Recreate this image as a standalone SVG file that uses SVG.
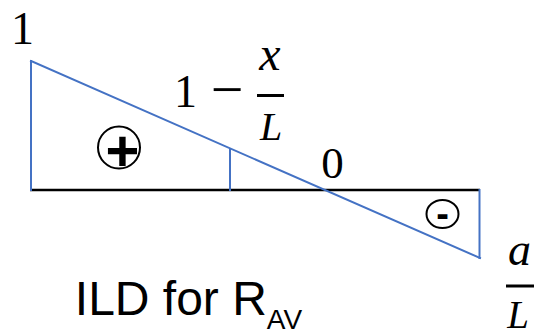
<svg xmlns="http://www.w3.org/2000/svg" width="534" height="332" viewBox="0 0 534 332">
  <style>
    .blue { stroke: #4472C4; stroke-width: 2; fill: none; stroke-linecap: square; }
    .axis { stroke: #000; stroke-width: 2.5; fill: none; }
    .math { font-family: "Liberation Serif", "Times New Roman", serif; fill: #000; text-anchor: middle; }
    .mi { font-style: italic; }
    .bar { stroke: #000; stroke-width: 3; }
    .sign { fill: none; stroke: #000; stroke-width: 2; }
    .signtxt { font-family: "Liberation Sans", Arial, sans-serif; font-weight: bold; fill: #000; text-anchor: middle; }
    .label { font-family: "Liberation Sans", Arial, sans-serif; fill: #000; }
  </style>
  <rect width="534" height="332" fill="#fff"/>
  <g id="connectors">
    <line class="axis" x1="30" y1="190" x2="480" y2="190"/>
    <line class="blue" x1="31" y1="61" x2="31" y2="190"/>
    <line class="blue" x1="31" y1="61" x2="480" y2="258"/>
    <line class="blue" x1="230" y1="149" x2="230" y2="190"/>
    <line class="blue" x1="479.5" y1="190" x2="479.5" y2="258"/>
  </g>
  <g id="label-one">
    <text class="math" x="22.5" y="44" font-size="46">1</text>
  </g>
  <g id="label-ordinate">
    <text class="math" x="185.5" y="107" font-size="46">1</text>
    <text class="math" x="227" y="108.5" font-size="58">−</text>
    <text class="math mi" x="270" y="70" font-size="48">x</text>
    <line class="bar" x1="257" y1="95.5" x2="284" y2="95.5"/>
    <text class="math mi" x="271" y="139.5" font-size="40">L</text>
  </g>
  <g id="label-zero">
    <text class="math" x="332.5" y="178" font-size="45">0</text>
  </g>
  <g id="sign-plus">
    <circle class="sign" cx="119" cy="147.5" r="21"/>
    <text class="signtxt" x="122.5" y="171" font-size="58">+</text>
  </g>
  <g id="sign-minus">
    <ellipse class="sign" cx="442.5" cy="214" rx="16" ry="14"/>
    <text class="signtxt" x="442.5" y="226.5" font-size="38">-</text>
  </g>
  <g id="label-end">
    <text class="math mi" x="519.5" y="265" font-size="46">a</text>
    <line class="bar" x1="506" y1="286" x2="534" y2="286"/>
    <text class="math mi" x="518" y="328" font-size="39">L</text>
  </g>
  <g id="title">
    <text class="label" x="74.8" y="315" font-size="48">ILD for R<tspan font-size="28" dy="14">AV</tspan></text>
  </g>
</svg>
